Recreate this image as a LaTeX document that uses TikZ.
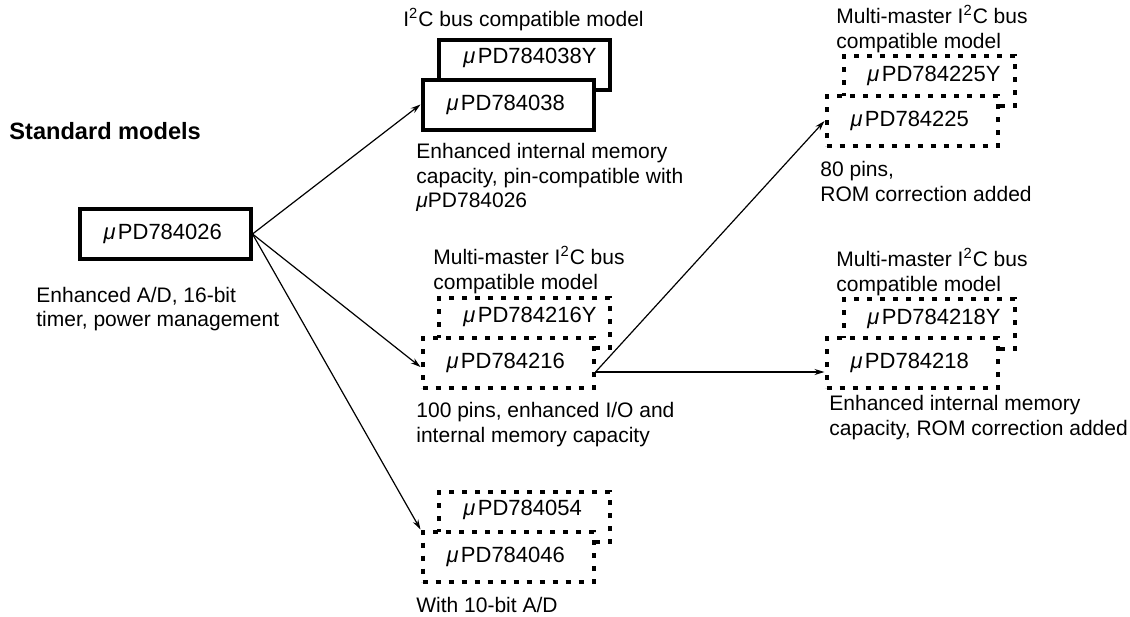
\documentclass[tikz,border=0pt]{standalone}
\usepackage{fontspec}
\setmainfont{Liberation Sans}
\usetikzlibrary{arrows.meta}
\newcommand{\uPD}{\textit{μ}PD}
\newcommand{\chipPD}{\textit{μ}\kern1.2pt PD}
\begin{document}
\begin{tikzpicture}[x=0.5pt,y=-0.5pt,
    chip/.style={draw,line width=2pt,fill=white,text width=61.5pt,minimum height=25pt,
      align=left,inner xsep=12pt,inner ysep=0pt,font=\fontsize{11}{13}\selectfont},
    dotted chip/.style={chip,dash pattern=on 2.5pt off 4pt},
    chip name/.style={anchor=west,inner sep=0pt,font=\fontsize{11}{13}\selectfont},
    note/.style={anchor=west,align=left,inner sep=0pt,font=\fontsize{10.5}{12.25}\selectfont},
    link/.style={line width=0.6pt,-{Stealth[length=5pt,width=3pt]}}]
    \useasboundingbox (0,0) rectangle (1130,616);

    % Modelo estandar
    \node[note,font=\bfseries\fontsize{11.8}{14}\selectfont] (std) at (9,131) {Standard models};
    \node[chip] (m026) at (165,234) {\chipPD784026};
    \node[note] (n026) at (36,309) {Enhanced A/D, 16-bit\\timer, power management};

    % uPD784038
    \node[note] (i038) at (403,20) {I\textsuperscript{2}C bus compatible model};
    \node[chip] (m038y) at (524.5,65) {};
    \node[chip name] (t038y) at (463,58) {\chipPD784038Y};
    \node[chip] (m038) at (508,104.5) {\chipPD784038};
    \node[note] (n038) at (416,177.5) {Enhanced internal memory\\capacity, pin-compatible with\\\uPD784026};

    % uPD784216
    \node[note] (i216) at (433,270) {Multi-master I\textsuperscript{2}C bus\\compatible model};
    \node[dotted chip] (m216y) at (524.5,323) {};
    \node[chip name] (t216y) at (463,317) {\chipPD784216Y};
    \node[dotted chip] (m216) at (508,363) {\chipPD784216};
    \node[note] (n216) at (416,424.5) {100 pins, enhanced I/O and\\internal memory capacity};

    % uPD784046
    \node[dotted chip] (m054) at (524.5,517) {};
    \node[chip name] (t054) at (463,510) {\chipPD784054};
    \node[dotted chip] (m046) at (508,556.5) {\chipPD784046};
    \node[note] (n046) at (416,605) {With 10-bit A/D};

    % uPD784225
    \node[note] (i225) at (836,29) {Multi-master I\textsuperscript{2}C bus\\compatible model};
    \node[dotted chip] (m225y) at (929,81) {};
    \node[chip name] (t225y) at (867,76) {\chipPD784225Y};
    \node[dotted chip] (m225) at (912,121) {\chipPD784225};
    \node[note] (n225) at (820,181.5) {80 pins,\\ROM correction added};

    % uPD784218
    \node[note] (i218) at (836,272) {Multi-master I\textsuperscript{2}C bus\\compatible model};
    \node[dotted chip] (m218y) at (929,324) {};
    \node[chip name] (t218y) at (867,319) {\chipPD784218Y};
    \node[dotted chip] (m218) at (912,363) {\chipPD784218};
    \node[note] (n218) at (829,417.5) {Enhanced internal memory\\capacity, ROM correction added};

    % Flechas
    \draw[link] (m026.east) -- (m038.west);
    \draw[link] (m026.east) -- ([yshift=-2pt]m216.west);
    \draw[link] (m026.east) -- (m046.north west);
    \draw[link] ([yshift=-4.5pt]m216.east) -- (m225.west);
    \draw[link] ([yshift=-4.5pt]m216.east) -- ([yshift=-4.5pt]m218.west);
\end{tikzpicture}
\end{document}
